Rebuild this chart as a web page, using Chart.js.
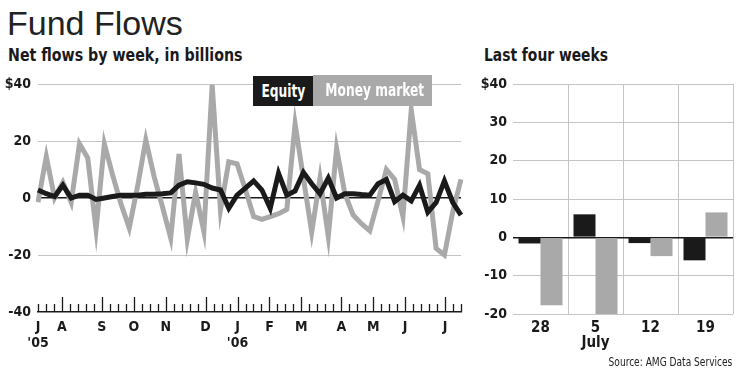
<!DOCTYPE html>
<html>
<head>
<meta charset="utf-8">
<script src="https://cdn.jsdelivr.net/npm/chart.js@4.4.1/dist/chart.umd.min.js"></script>
<style>
    html, body { margin: 0; padding: 0; background: #fff; }
    #quadro {
        position: relative; width: 740px; height: 376px; overflow: hidden;
        font-family: 'DejaVu Sans Condensed', 'Liberation Sans Narrow', sans-serif;
        color: #1a1a1a;
    }
    .txt { position: absolute; white-space: nowrap; line-height: 1; }
    .txt span, .leg span { display: inline-block; }
    #titulo { left: 7px; top: 6px; font-family: 'Liberation Sans', Arial, sans-serif; font-size: 34px; color: #222; }
    #subtitulo { left: 8px; top: 46px; font-size: 18px; font-weight: bold; }
    #subtitulo span { transform: scaleX(0.877); transform-origin: left; }
    #subtitulo2 { left: 484px; top: 46px; font-size: 18px; font-weight: bold; }
    #subtitulo2 span { transform: scaleX(0.855); transform-origin: left; }
    .leg { position: absolute; color: #fff; font-weight: bold; font-size: 17px; text-align: center; white-space: nowrap; }
    .leg span { transform: scaleX(0.8); transform-origin: center; }
    #leg-acoes { left: 253px; top: 76px; width: 60px; height: 30px; line-height: 30px; background: #1a1a1a; }
    #leg-mon { left: 313px; top: 75px; width: 119px; height: 31px; line-height: 31px; background: #a9a9a9; }
    #fonte { right: 8px; top: 356px; font-size: 12px; color: #222; }
    #fonte span { transform: scaleX(0.84); transform-origin: right; }
    canvas { position: absolute; top: 0; }
    #graficoFluxos { left: 0; }
    #graficoSemanas { left: 470px; }
</style>
</head>
<body>
<div id="quadro">
    <div class="txt" id="titulo">Fund Flows</div>
    <div class="txt" id="subtitulo"><span>Net flows by week, in billions</span></div>
    <div class="txt" id="subtitulo2"><span>Last four weeks</span></div>
    <canvas id="graficoFluxos" width="470" height="376"></canvas>
    <canvas id="graficoSemanas" width="270" height="376"></canvas>
    <div class="leg" id="leg-acoes"><span>Equity</span></div>
    <div class="leg" id="leg-mon"><span>Money market</span></div>
    <div class="txt" id="fonte"><span>Source: AMG Data Services</span></div>
</div>
<script>
// Fluxos líquidos semanais (US$ bilhões), jul/2005 até 19/jul/2006
const fluxoAcoes = [
    2.8, 1.5, 0.5, 4.5, 0, 1, 1, -0.5, 0, 0.5,
    1, 1, 1, 1.3, 1.3, 1.5, 1.8, 4.5, 5.7, 5.3,
    4.8, 3.5, 2.8, -3.6, 1, 3.5, 6, 2.8, -3.6, 8.7,
    1, 2.5, 9, 5, 1.5, 7, 0, 1.5, 1.5, 1.2,
    1, 5, 6.5, -1.3, 1, -1, 4.5, -5, -1.6, 6,
    -1.5, -6
];
const fluxoMonetario = [
    -1.5, 14.5, 0, 5.5, -1.5, 19, 14, -11, 19, 8,
    -2, -10.5, 4, 20.4, 7.5, -3, -14, 15.4, -14.4, 2,
    -11.8, 39.7, -4.2, 12.7, 12, 3, -6.5, -7.5, -6.5, -5.5,
    -4, 26, 7, -12, 7, -13.5, 17.4, 1.5, -6, -9,
    -11.5, -1, 10, 6.5, -6.5, 31, 10, 8.5, -17.7, -20,
    -4.9, 6.5
];

// Eixo de semanas: 54 marcas, meses começando nestas marcas
const totalMarcas = 53;
const marcasMes = [0, 3, 8, 12, 16, 21, 25, 29, 33, 38, 42, 46, 51];
const letrasMes = ['J', 'A', 'S', 'O', 'N', 'D', 'J', 'F', 'M', 'A', 'M', 'J', 'J'];
const anosMes = { 0: "'05", 25: "'06" };

// Últimas quatro semanas
const rotulosSemanas = ['28', ['5', 'July'], '12', '19'];
const ultimasAcoes = fluxoAcoes.slice(-4);
const ultimasMonetario = fluxoMonetario.slice(-4);

const PRETO = '#1a1a1a';
const CINZA = '#a9a9a9';
const GRADE = '#c4c4c4';
const fonteEixo = { family: "'DejaVu Sans Condensed', 'Liberation Sans Narrow', sans-serif", size: 14, weight: 'bold' };

// Marcas semanais viradas para cima sobre a linha de base
const marcasSemanais = {
    id: 'marcasSemanais',
    afterDatasetsDraw(chart) {
        const esc = chart.scales.x2;
        const base = chart.chartArea.bottom;
        const ctx = chart.ctx;
        ctx.save();
        ctx.strokeStyle = PRETO;
        ctx.lineWidth = 1.3;
        esc.ticks.forEach(t => {
            const x = Math.round(esc.getPixelForValue(t.value)) + 0.5;
            const maior = t.value > 0 && marcasMes.includes(t.value);
            ctx.beginPath();
            ctx.moveTo(x, base);
            ctx.lineTo(x, base - (maior ? 15 : 8));
            ctx.stroke();
        });
        ctx.restore();
    }
};

Chart.defaults.color = PRETO;

new Chart(document.getElementById('graficoFluxos'), {
    type: 'line',
    data: {
        labels: fluxoAcoes.map((_, i) => i),
        datasets: [
            { label: 'Equity', data: fluxoAcoes, borderColor: PRETO, borderWidth: 5, pointRadius: 0, tension: 0 },
            { label: 'Money market', data: fluxoMonetario, borderColor: CINZA, borderWidth: 5, pointRadius: 0, tension: 0 }
        ]
    },
    options: {
        responsive: false,
        animation: false,
        layout: { padding: { left: 0, right: 9, top: 84, bottom: 24 } },
        plugins: { legend: { display: false }, tooltip: { enabled: false } },
        scales: {
            x: { display: false, offset: false },
            x2: {
                type: 'linear', position: 'bottom', min: 0, max: totalMarcas,
                grid: { drawOnChartArea: false, drawTicks: false },
                border: { display: true, color: PRETO, width: 1.5 },
                ticks: {
                    stepSize: 1, autoSkip: false, maxRotation: 0, padding: 8,
                    font: { ...fonteEixo, size: 14, lineHeight: 1.1 },
                    callback: v => {
                        const k = marcasMes.indexOf(v);
                        if (k < 0) return '';
                        return anosMes[v] ? [letrasMes[k], anosMes[v]] : letrasMes[k];
                    }
                },
                afterFit: s => { s.height = 40; }
            },
            y: {
                min: -40, max: 40,
                border: { display: false },
                grid: {
                    drawTicks: false,
                    color: c => c.tick.value === 0 ? PRETO : (c.tick.value === -40 ? 'rgba(0,0,0,0)' : GRADE),
                    lineWidth: c => c.tick.value === 0 ? 1.5 : 1
                },
                ticks: {
                    stepSize: 20, padding: 7, font: fonteEixo,
                    callback: v => v === 40 ? '$40' : String(v)
                },
                afterFit: s => { s.width = 38; }
            }
        }
    },
    plugins: [marcasSemanais]
});

new Chart(document.getElementById('graficoSemanas'), {
    type: 'bar',
    data: {
        labels: rotulosSemanas,
        datasets: [
            { label: 'Equity', data: ultimasAcoes, backgroundColor: PRETO, categoryPercentage: 0.8, barPercentage: 1 },
            { label: 'Money market', data: ultimasMonetario, backgroundColor: CINZA, categoryPercentage: 0.8, barPercentage: 1 }
        ]
    },
    options: {
        responsive: false,
        animation: false,
        layout: { padding: { left: 0, right: 7, top: 84, bottom: 20 } },
        plugins: { legend: { display: false }, tooltip: { enabled: false } },
        scales: {
            x: {
                border: { display: false },
                grid: {
                    offset: true, drawTicks: false,
                    color: c => (c.index === 0 || c.index >= 4) ? 'rgba(0,0,0,0)' : GRADE
                },
                ticks: { padding: 7, font: { ...fonteEixo, size: 15, lineHeight: 1.0 } },
                afterFit: s => { s.height = 42; }
            },
            y: {
                min: -20, max: 40,
                border: { display: false },
                grid: {
                    drawTicks: false,
                    color: c => c.tick.value === 0 ? PRETO : GRADE,
                    lineWidth: c => c.tick.value === 0 ? 1.5 : 1
                },
                ticks: {
                    stepSize: 10, padding: 6, font: fonteEixo,
                    callback: v => v === 40 ? '$40' : String(v)
                },
                afterFit: s => { s.width = 43; }
            }
        }
    }
});
</script>
</body>
</html>
